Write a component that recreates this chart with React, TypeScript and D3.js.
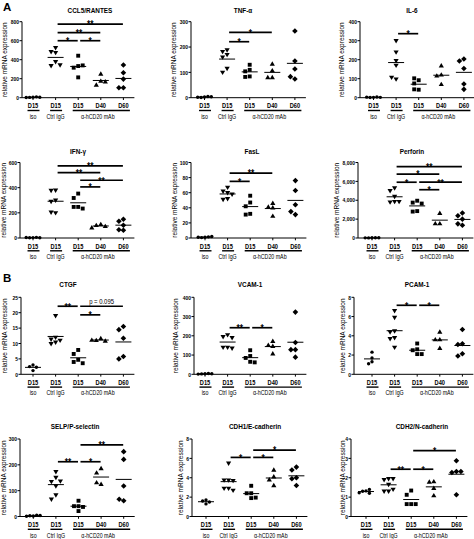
import React from 'react';
import * as d3 from 'd3';

const FONT = '"Liberation Sans", Arial, Helvetica, sans-serif';
const SX = 0.8;

const dayLabels = ['D15', 'D15', 'D15', 'D40', 'D60'];
const groupLabels: [string, number, number][] = [['iso', 0, 0], ['Ctrl IgG', 1, 1], ['α-hCD20 mAb', 2, 4]];

// ---- data (relative mRNA expression) : [iso, Ctrl IgG, D15, D40, D60]
const ccl5 = [[6, 3, 9, 2, 5], [526, 474, 484, 379, 337, 344], [442, 333, 316, 340, 214], [249, 175, 133, 168], [344, 263, 196, 105, 105]];
const tnf = [[3, 1, 5, 2, 4], [188, 182, 170, 160, 115, 100], [130, 110, 104, 84, 82], [133, 107, 80, 80], [263, 145, 113, 74, 83]];
const il6 = [[2, 1, 4, 3, 2], [300, 240, 195, 170, 98, 107], [92, 102, 75, 42, 44], [168, 120, 115, 70], [204, 193, 154, 72, 44]];
const ifng = [[3, 2, 5, 4, 2], [380, 378, 300, 290, 200, 205], [353, 318, 247, 247, 234], [108, 100, 92, 82], [149, 133, 101, 61, 66]];
const fasl = [[1, 0.5, 1.5, 1, 2], [67, 62, 60, 58, 52, 51], [56, 47, 42, 32, 31], [46, 41, 40, 29], [76, 63, 44, 31, 35]];
const perforin = [[20, 10, 30, 15, 25], [5300, 5000, 4400, 3850, 3800, 3850], [3950, 3750, 3650, 2850, 2800], [2630, 1520, 1520], [2650, 2350, 2000, 1350, 1500]];
const ctgf = [[3.0, 2.5, 2.3, 1.2], [19, 12, 11.4, 11, 10.4, 9.9], [7.9, 6.6, 4.7, 4.0, 3.6], [11.6, 11.0, 10.8, 11.1], [15.5, 14.5, 11.7, 5.8, 5.0]];
const vcam = [[3, 2, 4, 1, 3], [205, 195, 190, 140, 140, 135], [125, 95, 85, 65, 62], [172, 151, 146, 107], [323, 165, 128, 128, 89]];
const pcam = [[2.3, 1.7, 1.3, 1.1], [6.6, 5.9, 4.5, 4.4, 3.8, 3.7, 2.8], [3.2, 2.6, 2.5, 2.1, 2.1], [4.4, 3.6, 3.6, 2.7], [4.65, 3.17, 3.1, 2.14, 1.9]];
const selp = [[2, 3, 5, 1, 4], [173, 151, 135, 137, 118, 83, 67], [61, 40, 40, 37, 21], [186, 169, 125, 131], [251, 221, 118, 61, 67]];
const cdh1 = [[1.7, 1.6, 1.5, 1.3], [5.5, 3.75, 3.75, 3.7, 2.9, 2.9, 2.7], [3.17, 2.4, 2.4, 1.95, 1.9], [4.8, 4.1, 3.8, 3.2], [5.1, 4.8, 4.0, 3.9, 3.2]];
const cdh2 = [[1.32, 1.3, 1.4, 1.2, 1.22], [1.95, 1.9, 1.95, 1.65, 1.3, 1.3, 1.4], [1.34, 1.12, 0.64, 0.64, 0.64], [1.8, 1.78, 1.46, 1.08], [2.88, 2.32, 2.27, 2.32, 1.12]];

// significance bars: [fromGroup, toGroup, level (data units), label]
type Sig = [number, number, number, string];
const ccl5Sig: Sig[] = [[1, 4, 775, '**'], [1, 3, 684, '**'], [1, 2, 600, '*'], [2, 3, 600, '*']];
const tnfSig: Sig[] = [[1, 3, 258, '*'], [1, 2, 221, '*']];
const il6Sig: Sig[] = [[1, 2, 337, '*']];
const ifngSig: Sig[] = [[1, 4, 573, '**'], [1, 3, 520, '**'], [2, 4, 459, '**'], [2, 3, 406, '*']];
const faslSig: Sig[] = [[1, 3, 86, '**'], [1, 2, 75, '*']];
const perforinSig: Sig[] = [[1, 4, 7567, '**'], [1, 3, 6775, '*'], [1, 2, 5910, '*'], [2, 4, 5910, '**'], [2, 3, 5117, '*']];
const ctgfSig: Sig[] = [[1, 2, 22.1, '**'], [2, 4, 22.1, 'p = 0.095'], [2, 3, 19.3, '*']];
const vcamSig: Sig[] = [[1, 2, 242, '**'], [2, 3, 242, '*']];
const pcamSig: Sig[] = [[1, 2, 7.17, '*'], [2, 3, 7.17, '*']];
const selpSig: Sig[] = [[2, 4, 277, '**'], [1, 2, 212, '**'], [2, 3, 212, '*']];
const cdh1Sig: Sig[] = [[2, 4, 6.86, '*'], [1, 2, 6.1, '*'], [2, 3, 6.1, '*']];
const cdh2Sig: Sig[] = [[2, 4, 3.4, '*'], [1, 2, 2.44, '**'], [2, 3, 2.44, '*']];

const rows = [
  { top: 21.7, zero: 97.7, titleY: 13 },
  { top: 162.5, zero: 238, titleY: 153.5 },
  { top: 297.3, zero: 374.3, titleY: 287 },
  { top: 439, zero: 516.5, titleY: 429 },
];

type Panel = {
  title: string; data: number[][]; yMax: number; step: number; comma?: boolean; sig: Sig[];
  row: number; axisX: number; c0: number; titleX: number; labelX: number;
};

const panels: Panel[] = [
  { title: 'CCL5/RANTES', data: ccl5, yMax: 800, step: 200, sig: ccl5Sig, row: 0, axisX: 22, c0: 33, titleX: 90, labelX: 4.5 },
  { title: 'TNF-α', data: tnf, yMax: 300, step: 100, sig: tnfSig, row: 0, axisX: 191, c0: 204.5, titleX: 243, labelX: 174 },
  { title: 'IL-6', data: il6, yMax: 400, step: 100, sig: il6Sig, row: 0, axisX: 360, c0: 373.5, titleX: 412, labelX: 342 },
  { title: 'IFN-γ', data: ifng, yMax: 600, step: 200, sig: ifngSig, row: 1, axisX: 20, c0: 33, titleX: 78, labelX: 4 },
  { title: 'FasL', data: fasl, yMax: 100, step: 20, sig: faslSig, row: 1, axisX: 191, c0: 205, titleX: 252, labelX: 175 },
  { title: 'Perforin', data: perforin, yMax: 8000, step: 2000, comma: true, sig: perforinSig, row: 1, axisX: 358, c0: 372, titleX: 412, labelX: 337 },
  { title: 'CTGF', data: ctgf, yMax: 25, step: 5, sig: ctgfSig, row: 2, axisX: 21, c0: 33, titleX: 68, labelX: 4.5 },
  { title: 'VCAM-1', data: vcam, yMax: 400, step: 100, sig: vcamSig, row: 2, axisX: 194, c0: 205, titleX: 250, labelX: 176 },
  { title: 'PCAM-1', data: pcam, yMax: 8, step: 2, sig: pcamSig, row: 2, axisX: 354, c0: 372, titleX: 417, labelX: 343 },
  { title: 'SELP/P-selectin', data: selp, yMax: 300, step: 100, sig: selpSig, row: 3, axisX: 20, c0: 33.3, titleX: 75, labelX: 4 },
  { title: 'CDH1/E-cadherin', data: cdh1, yMax: 8, step: 2, sig: cdh1Sig, row: 3, axisX: 192, c0: 206, titleX: 255, labelX: 181 },
  { title: 'CDH2/N-cadherin', data: cdh2, yMax: 4, step: 1, sig: cdh2Sig, row: 3, axisX: 351, c0: 366, titleX: 422, labelX: 343 },
];

const SPACING = 22.6;

const T = ({ x, y, size, bold = false, anchor = 'middle', children }: any) => (
  <text transform={`translate(${x},${y}) scale(${SX},1)`} fontSize={size} fontWeight={bold ? 'bold' : 'normal'}
    textAnchor={anchor} fontFamily={FONT} fill="#000">{children}</text>
);

function markerPath(kind: number) {
  switch (kind) {
    case 0: return d3.symbol(d3.symbolCircle, 9)();
    case 1: return `M-2.6,-1.7L2.6,-1.7L0,2.7Z`;
    case 2: return `M-1.95,-1.95L1.95,-1.95L1.95,1.95L-1.95,1.95Z`;
    case 3: return `M-2.6,1.7L2.6,1.7L0,-2.7Z`;
    default: return `M0,-2.8L2.8,0L0,2.8L-2.8,0Z`;
  }
}

function swarm(vals: number[], y: (v: number) => number, step: number) {
  const placed: { dx: number; py: number }[] = [];
  const cands = [0, -1, 1, -2, 2, -3, 3, -4, 4].map(k => k * step);
  return vals.map(v => {
    const py = y(v);
    let chosen = cands[cands.length - 1];
    for (const dx of cands) {
      if (placed.every(p => Math.hypot(p.dx - dx, p.py - py) >= step)) { chosen = dx; break; }
    }
    placed.push({ dx: chosen, py });
    return { dx: chosen, py };
  });
}

function PanelView({ p }: { p: Panel }) {
  const r = rows[p.row];
  const y = d3.scaleLinear().domain([0, p.yMax]).range([r.zero, r.top]);
  const ticks = d3.range(0, p.yMax + p.step / 2, p.step);
  const fmt = p.comma ? d3.format(',') : d3.format('');
  const cx = (i: number) => p.c0 + i * SPACING;
  const xEnd = cx(4) + 11;
  return (
    <g>
      <T x={p.titleX} y={r.titleY} size={8} bold>{p.title}</T>
      <text transform={`translate(${p.labelX + 2.3},${(r.top + r.zero) / 2}) rotate(-90)`} fontSize={6.5}
        textAnchor="middle" fontFamily={FONT} fill="#000">relative mRNA expression</text>
      {/* y axis */}
      <line x1={p.axisX} x2={p.axisX} y1={r.top} y2={r.zero} stroke="#000" strokeWidth={1} />
      {ticks.map(t => (
        <g key={t}>
          <line x1={p.axisX - 2.5} x2={p.axisX} y1={y(t)} y2={y(t)} stroke="#000" strokeWidth={1} />
          <T x={p.axisX - 3} y={y(t) + 2.2} size={6.2} bold anchor="end">{fmt(t)}</T>
        </g>
      ))}
      {/* x axis */}
      <line x1={p.axisX} x2={xEnd} y1={r.zero} y2={r.zero} stroke="#000" strokeWidth={1} />
      {dayLabels.map((d, i) => (
        <g key={i}>
          <line x1={cx(i)} x2={cx(i)} y1={r.zero} y2={r.zero + 2.3} stroke="#000" strokeWidth={1} />
          <T x={cx(i)} y={r.zero + 10.7} size={7.1} bold>{d}</T>
        </g>
      ))}
      {groupLabels.map(([txt, a, b], i) => (
        <g key={i}>
          <line x1={cx(a) - 5.5} x2={cx(b) + 6.5} y1={r.zero + 12.8} y2={r.zero + 12.8} stroke="#000" strokeWidth={1.4} />
          <T x={a === b ? cx(a) : cx(3) - 3} y={r.zero + 21} size={6.6}>{txt}</T>
        </g>
      ))}
      {/* points and means */}
      {p.data.map((vals, g) => {
        const pos = swarm(vals, y, g === 0 ? 3.4 : 4.5);
        const m = d3.mean(vals) as number;
        return (
          <g key={g}>
            {pos.map((q, i) => (
              <path key={i} d={markerPath(g)} transform={`translate(${cx(g) + q.dx},${q.py})`} fill="#000" />
            ))}
            <line x1={cx(g) - 8} x2={cx(g) + 8} y1={y(m)} y2={y(m)} stroke="#000" strokeWidth={1} />
          </g>
        );
      })}
      {/* significance */}
      {p.sig.map(([a, b, lv, lab], i) => {
        const x1 = cx(a) + 2, x2 = cx(b) - 0.5, yy = y(lv);
        const isP = lab.startsWith('p');
        return (
          <g key={i}>
            <line x1={x1} x2={x2} y1={yy} y2={yy} stroke="#000" strokeWidth={1.7} />
            {isP
              ? <T x={(x1 + x2) / 2} y={yy - 2} size={7.4}>{lab}</T>
              : <T x={(x1 + x2) / 2} y={yy + 4.4} size={10.5} bold>{lab}</T>}
          </g>
        );
      })}
    </g>
  );
}

export default function App() {
  return (
    <svg width={474} height={539} viewBox="0 0 474 539"
      style={{ position: 'absolute', left: 0, top: 0, background: '#fff' }}>
      <rect width={474} height={539} fill="#fff" />
      <text x={3} y={11} fontSize={11.5} fontWeight="bold" fontFamily={FONT}>A</text>
      <text x={3} y={282} fontSize={11.5} fontWeight="bold" fontFamily={FONT}>B</text>
      {panels.map((p, i) => <PanelView key={i} p={p} />)}
    </svg>
  );
}
